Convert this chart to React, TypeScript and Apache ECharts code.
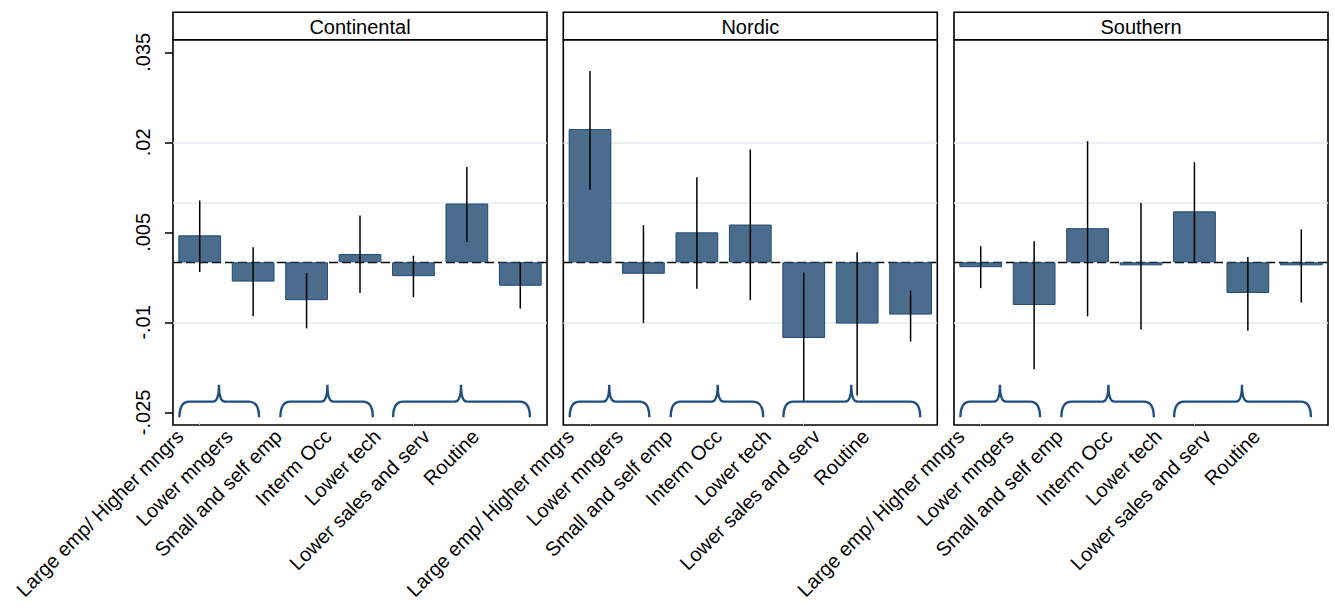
import React, { useEffect, useRef } from "react";
import * as echarts from "echarts";

// ---------- data ----------
const panels = ["Continental", "Nordic", "Southern"];
const categories = [
  "Large emp/ Higher mngrs",
  "Lower mngers",
  "Small and self emp",
  "Interm Occ",
  "Lower tech",
  "Lower sales and serv",
  "Routine",
];

const continentalCoef = [0.0045, -0.0032, -0.0063, 0.0014, -0.0023, 0.0098, -0.0039];
const continentalLow = [-0.0016, -0.009, -0.011, -0.0051, -0.0058, 0.0034, -0.0077];
const continentalHigh = [0.0103, 0.0025, -0.0018, 0.0078, 0.0011, 0.0159, 0.0];

const nordicCoef = [0.0222, -0.0019, 0.005, 0.0063, -0.0126, -0.0102, -0.0087];
const nordicLow = [0.0121, -0.0101, -0.0044, -0.0063, -0.0233, -0.0222, -0.0132];
const nordicHigh = [0.0319, 0.0062, 0.0142, 0.0188, -0.0017, 0.0017, -0.0047];

const southernCoef = [-0.0008, -0.0071, 0.0057, -0.0005, 0.0085, -0.0051, -0.0005];
const southernLow = [-0.0043, -0.0178, -0.009, -0.0112, 0.0, -0.0114, -0.0067];
const southernHigh = [0.0027, 0.0035, 0.0202, 0.0099, 0.0167, 0.0009, 0.0055];

const coefs = [continentalCoef, nordicCoef, southernCoef];
const lows = [continentalLow, nordicLow, southernLow];
const highs = [continentalHigh, nordicHigh, southernHigh];

const yTicks = [-0.025, -0.01, 0.005, 0.02, 0.035];
const yMin = -0.0271;
const yMax = 0.0371;

// brace groups: [start, end, peak] in category units
const braceGroups = [
  [-0.38, 1.11, 0.36],
  [1.51, 3.24, 2.39],
  [3.62, 6.18, 4.89],
];
const braceY = [-0.0258, -0.0232, -0.0204]; // ends, bar, peak

// x label anchor positions, in category units
const labelPos = [-0.37, 0.55, 1.47, 2.4, 3.32, 4.24, 5.16];

// ---------- layout ----------
const FONT = "'Liberation Sans', Arial, Helvetica, sans-serif";
const gridLefts = [173, 563.3, 954];
const gridWidth = 374;
const gridTop = 39.7;
const gridBottomY = 425;
const stripTop = 12.3;
const barFill = "#4a6c8d";
const barBorder = "#1f4a72";
const braceColor = "#1f4e80";

const fmtY = (v: number) => {
  const s = String(+Number(v).toFixed(4));
  return s.replace(/^(-?)0\./, "$1.");
};

const nearestLabel = (v: number) => {
  let best = 0;
  let bd = Infinity;
  labelPos.forEach((p, i) => {
    const d = Math.abs(p - v);
    if (d < bd) {
      bd = d;
      best = i;
    }
  });
  return categories[best];
};

export default function App() {
  const ref = useRef<HTMLDivElement>(null);

  useEffect(() => {
    if (!ref.current) return;
    const chart = echarts.init(ref.current, undefined, { renderer: "svg" });

    const grids = panels.map((_, p) => ({
      left: gridLefts[p],
      top: gridTop,
      width: gridWidth,
      height: gridBottomY - gridTop,
      show: true,
      backgroundColor: "#fff",
      borderColor: "#000",
      borderWidth: 1.6,
      containLabel: false,
      outerBoundsMode: "none",
    }));

    const xAxes: any[] = [];
    panels.forEach((_, p) => {
      xAxes.push({
        type: "category",
        gridIndex: p,
        data: categories,
        position: "bottom",
        axisLine: { show: false, onZero: false },
        axisTick: {
          show: true,
          inside: true,
          alignWithLabel: true,
          length: 3,
          lineStyle: { color: "#d8d8d8", width: 1 },
        },
        axisLabel: { show: false },
        splitLine: { show: false },
      });
      xAxes.push({
        type: "value",
        gridIndex: p,
        min: -0.5,
        max: 6.5,
        position: "bottom",
        axisLine: { show: false, onZero: false },
        axisTick: { show: false },
        splitLine: { show: false },
        axisLabel: {
          show: true,
          customValues: labelPos,
          rotate: 45,
          margin: 8,
          fontSize: 20,
          color: "#000",
          fontFamily: FONT,
          formatter: (v: number) => nearestLabel(v),
        },
      });
    });

    const yAxes = panels.map((_, p) => ({
      type: "value",
      gridIndex: p,
      min: yMin,
      max: yMax,
      position: "left",
      axisLine: { show: false, onZero: false },
      splitLine: { show: false },
      axisTick: {
        show: p === 0,
        customValues: yTicks,
        length: 8,
        lineStyle: { color: "#000", width: 1.5 },
      },
      axisLabel: {
        show: p === 0,
        customValues: yTicks,
        rotate: 90,
        margin: 20,
        fontSize: 20,
        color: "#000",
        fontFamily: FONT,
        formatter: (v: number) => fmtY(v),
      },
    }));

    const series: any[] = [];
    panels.forEach((_, p) => {
      series.push({
        type: "bar",
        name: panels[p],
        xAxisIndex: 2 * p,
        yAxisIndex: p,
        data: coefs[p],
        barCategoryGap: "20%",
        z: 2,
        itemStyle: { color: barFill, borderColor: barBorder, borderWidth: 1 },
        markLine: {
          z: 1,
          silent: true,
          symbol: "none",
          animation: false,
          label: { show: false },
          data: [
            ...yTicks.map((v) => ({
              yAxis: v,
              lineStyle: { color: "#e3ebf0", width: 1.5, type: "solid" },
            })),
            { yAxis: 0, lineStyle: { color: "#000", width: 1.3, type: [9, 4] } },
          ],
        },
      });
      series.push({
        type: "custom",
        xAxisIndex: 2 * p,
        yAxisIndex: p,
        z: 3,
        data: categories.map((_, i) => [i, lows[p][i], highs[p][i]]),
        encode: { x: 0, y: [1, 2] },
        renderItem: (_params: any, api: any) => {
          const a = api.coord([api.value(0), api.value(1)]);
          const b = api.coord([api.value(0), api.value(2)]);
          return {
            type: "line",
            shape: { x1: a[0], y1: a[1], x2: b[0], y2: b[1] },
            style: { stroke: "#000", lineWidth: 1.5 },
          };
        },
      });
      series.push({
        type: "custom",
        xAxisIndex: 2 * p + 1,
        yAxisIndex: p,
        z: 3,
        data: braceGroups,
        encode: { x: [0, 1, 2] },
        renderItem: (_params: any, api: any) => {
          const x0 = api.value(0);
          const x1 = api.value(1);
          const xp = api.value(2);
          const pA = api.coord([x0, braceY[0]]);
          const pB = api.coord([x0, braceY[1]]);
          const pE = api.coord([x1, braceY[0]]);
          const pP = api.coord([xp, braceY[2]]);
          const yb = pB[1];
          const r = 10;
          const rp = 6;
          const d =
            `M${pA[0]},${pA[1]} Q${pA[0]},${yb} ${pA[0] + r},${yb} ` +
            `L${pP[0] - rp},${yb} Q${pP[0]},${yb} ${pP[0]},${pP[1]} ` +
            `Q${pP[0]},${yb} ${pP[0] + rp},${yb} L${pE[0] - r},${yb} ` +
            `Q${pE[0]},${yb} ${pE[0]},${pE[1]}`;
          return {
            type: "path",
            shape: { pathData: d },
            style: { fill: "none", stroke: braceColor, lineWidth: 2.4 },
          };
        },
      });
    });

    const graphics: any[] = [];
    panels.forEach((name, p) => {
      graphics.push({
        type: "rect",
        shape: { x: gridLefts[p], y: stripTop, width: gridWidth, height: gridTop - stripTop },
        style: { fill: "#fff", stroke: "#000", lineWidth: 1.6 },
        z: 10,
      });
      graphics.push({
        type: "text",
        x: gridLefts[p] + gridWidth / 2,
        y: (stripTop + gridTop) / 2 + 0.5,
        style: {
          text: name,
          fontSize: 20,
          fontFamily: FONT,
          fill: "#000",
          textAlign: "center",
          textVerticalAlign: "middle",
        },
        z: 11,
      });
    });

    chart.setOption({
      animation: false,
      backgroundColor: "#fff",
      textStyle: { fontFamily: FONT },
      grid: grids,
      xAxis: xAxes,
      yAxis: yAxes,
      series,
      graphic: graphics,
    });

    return () => chart.dispose();
  }, []);

  return (
    <div
      ref={ref}
      style={{ position: "fixed", left: 0, top: 0, width: 1335, height: 608 }}
    />
  );
}
